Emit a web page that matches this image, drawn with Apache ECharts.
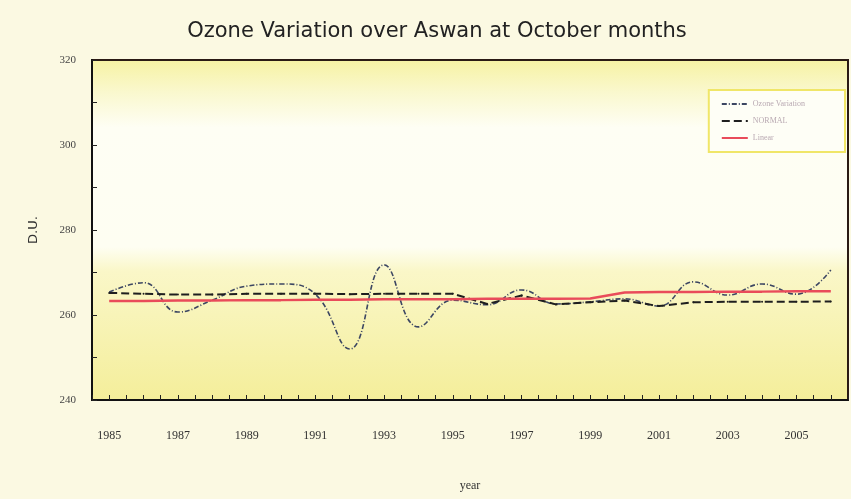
<!DOCTYPE html>
<html>
<head>
<meta charset="utf-8">
<script src="https://cdn.jsdelivr.net/npm/echarts@6/dist/echarts.min.js"></script>
<style>
  html, body { margin: 0; padding: 0; background: #fbf9e2; }
  #chart { width: 851px; height: 499px; }
</style>
</head>
<body>
<div id="chart"></div>
<script>
// values (D.U.)
const years = [1985, 1986, 1987, 1988, 1989, 1990, 1991, 1992, 1993, 1994, 1995,
               1996, 1997, 1998, 1999, 2000, 2001, 2002, 2003, 2004, 2005, 2006];
const ozone = [265.4, 267.6, 260.7, 263.5, 266.8, 267.3, 264.9, 252.0, 271.8, 257.2, 263.5,
               262.4, 265.9, 262.6, 263.1, 263.8, 262.1, 267.8, 264.7, 267.3, 264.9, 270.6];
const normal = [265.2, 265.0, 264.8, 264.8, 265.0, 265.0, 265.0, 264.9, 265.0, 265.0, 265.0,
                262.6, 264.6, 262.5, 263.0, 263.4, 262.1, 263.0, 263.1, 263.1, 263.1, 263.2];
const linear = [263.3, 263.3, 263.4, 263.4, 263.5, 263.5, 263.6, 263.6, 263.7, 263.7, 263.7,
                263.8, 263.8, 263.8, 263.9, 265.3, 265.4, 265.4, 265.5, 265.5, 265.6, 265.6];
const seriesNames = ['Ozone Variation', 'NORMAL', 'Linear'];

const pairs = (vals) => years.map((y, i) => [y, vals[i]]);

const serifFont = '"Liberation Serif", "DejaVu Serif", serif';

const myChart = echarts.init(document.getElementById('chart'));

const option = {
  backgroundColor: '#fbf9e2',
  title: {
    text: 'Ozone Variation over Aswan at October months',
    left: 432,
    textAlign: 'center',
    top: 16,
    textStyle: {
      fontFamily: '"DejaVu Sans", sans-serif',
      fontSize: 21,
      fontWeight: 'normal',
      color: '#222',
    },
  },
  legend: {
    orient: 'vertical',
    right: 6,
    top: 90,
    padding: [10, 40, 10, 12],
    itemGap: 9,
    itemWidth: 26,
    itemHeight: 8,
    itemStyle: { opacity: 0 },
    backgroundColor: '#fefef6',
    borderColor: '#f0e668',
    borderWidth: 2,
    textStyle: { color: '#b9a9b2', fontSize: 8, fontFamily: serifFont },
    data: seriesNames,
  },
  grid: {
    left: 92,
    top: 60,
    right: -4,
    bottom: 99,
    show: true,
    borderColor: '#2a1a14',
    borderWidth: 2,
    backgroundColor: {
      type: 'linear', x: 0, y: 0, x2: 0, y2: 1,
      colorStops: [
        { offset: 0, color: '#f6f2a2' },
        { offset: 0.1, color: '#faf8cf' },
        { offset: 0.2, color: '#fefef4' },
        { offset: 0.55, color: '#fefef2' },
        { offset: 0.62, color: '#faf7c8' },
        { offset: 1, color: '#f4ee9a' },
      ],
    },
  },
  xAxis: {
    type: 'value',
    min: 1984.5,
    max: 2006.5,
    interval: 0.5,
    name: 'year',
    nameLocation: 'middle',
    nameGap: 80,
    nameTextStyle: { fontFamily: serifFont, fontSize: 12, color: '#333' },
    axisLine: { show: true, lineStyle: { color: '#111', width: 2 } },
    axisTick: { show: true, inside: true, length: 5, lineStyle: { color: '#222' } },
    splitLine: { show: false },
    axisLabel: {
      margin: 30,
      fontFamily: serifFont,
      fontSize: 12,
      color: '#333',
      formatter: (v) => (Number.isInteger(v) && (v - 1985) % 2 === 0 ? String(v) : ''),
    },
  },
  yAxis: {
    type: 'value',
    min: 240,
    max: 320,
    interval: 20,
    name: 'D.U.',
    nameLocation: 'middle',
    nameGap: 52,
    nameRotate: 90,
    nameTextStyle: { fontFamily: '"DejaVu Sans", sans-serif', fontSize: 13, color: '#333' },
    axisLine: { show: true, lineStyle: { color: '#111', width: 2 } },
    axisTick: { show: true, inside: true, length: 5, lineStyle: { color: '#222' } },
    minorTick: { show: true, splitNumber: 2, length: 5, lineStyle: { color: '#222' } },
    splitLine: { show: false },
    axisLabel: { margin: 16, fontFamily: serifFont, fontSize: 11, color: '#444' },
  },
  series: [
    {
      name: seriesNames[0],
      type: 'line',
      data: pairs(ozone),
      smooth: 0.45,
      symbol: 'none',
      lineStyle: { color: '#3c4662', width: 1.6, type: [5, 2, 1, 2] },
      itemStyle: { color: '#3c4662' },
    },
    {
      name: seriesNames[1],
      type: 'line',
      data: pairs(normal),
      symbol: 'circle',
      symbolSize: 2,
      lineStyle: { color: '#1e1e1e', width: 2, type: [8, 4] },
      itemStyle: { color: '#1e1e1e' },
    },
    {
      name: seriesNames[2],
      type: 'line',
      data: pairs(linear),
      symbol: 'none',
      lineStyle: { color: '#e94b5a', width: 2.5 },
      itemStyle: { color: '#e94b5a' },
    },
  ],
};

myChart.setOption(option);
</script>
</body>
</html>
